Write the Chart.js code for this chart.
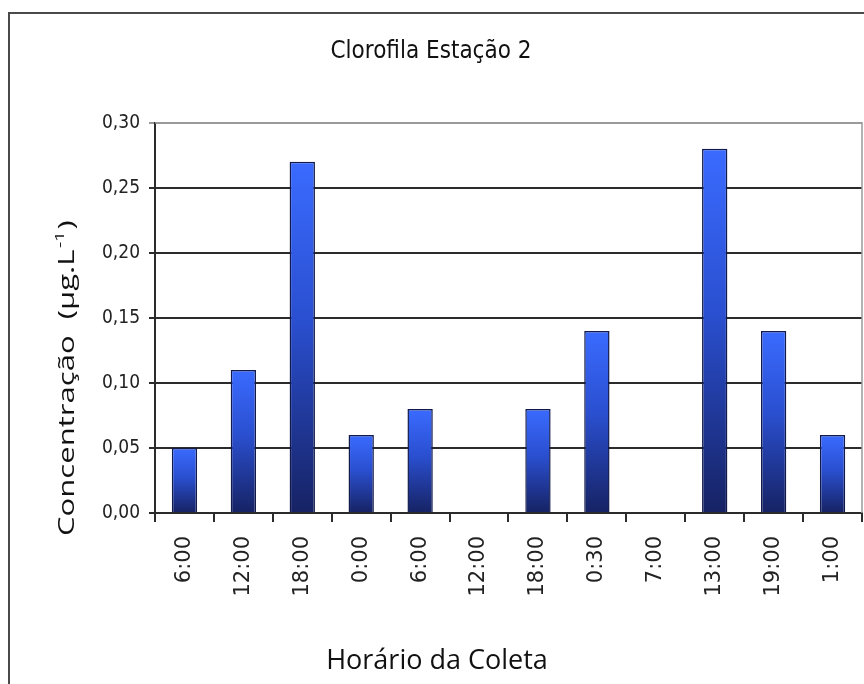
<!DOCTYPE html>
<html>
<head>
<meta charset="utf-8">
<script src="https://cdn.jsdelivr.net/npm/chart.js@4/dist/chart.umd.min.js"></script>
<style>
  html, body { margin: 0; padding: 0; background: #fff; overflow: hidden; }
  #frame { position: absolute; left: 8px; top: 12px; width: 900px; height: 700px;
           border-left: 2px solid #4a4a4a; border-top: 2px solid #4a4a4a; }
  #wrap { position: absolute; left: 0; top: 0; width: 864px; height: 684px; }
</style>
</head>
<body>
<div id="frame"></div>
<div id="wrap"><canvas id="chart" width="864" height="684"></canvas></div>
<script>
// sampling times and chlorophyll concentration (µg/L)
const horarios = ['6:00', '12:00', '18:00', '0:00', '6:00', '12:00', '18:00', '0:30', '7:00', '13:00', '19:00', '1:00'];
const clorofila = [0.05, 0.11, 0.27, 0.06, 0.08, 0, 0.08, 0.14, 0, 0.28, 0.14, 0.06];
const yTicks = [0, 0.05, 0.10, 0.15, 0.20, 0.25, 0.30];

const narrow = "'Liberation Sans Narrow', 'Arial Narrow', 'DejaVu Sans Condensed', sans-serif";
const lineColor = '#2b2b2b';

// vertical gradient per bar, light blue on top, navy at the base
function barGradient(ctx) {
  const chart = ctx.chart;
  if (!chart.chartArea || ctx.type !== 'data') return '#2f5cf0';
  const y = chart.scales.y;
  const top = y.getPixelForValue(ctx.raw);
  const bottom = y.getPixelForValue(0);
  if (bottom - top < 1) return '#2f5cf0';
  const g = chart.ctx.createLinearGradient(0, top, 0, bottom);
  g.addColorStop(0, '#3a6bff');
  g.addColorStop(0.45, '#2a4fd0');
  g.addColorStop(1, '#162263');
  return g;
}

// gray border on top and right of the plot area
const plotBorder = {
  id: 'plotBorder',
  afterDatasetsDraw(chart) {
    const { ctx, chartArea: a } = chart;
    ctx.save();
    ctx.strokeStyle = '#9a9a9a';
    ctx.lineWidth = 1.5;
    ctx.beginPath();
    ctx.moveTo(a.left, a.top);
    ctx.lineTo(a.right, a.top);
    ctx.lineTo(a.right, a.bottom);
    ctx.stroke();
    ctx.restore();
  }
};

// axis titles: tall humanist lettering, y title with superscript unit
const axisTitles = {
  id: 'axisTitles',
  afterDraw(chart) {
    const ctx = chart.ctx;
    ctx.save();
    ctx.fillStyle = '#111';
    ctx.textBaseline = 'middle';

    // x title
    ctx.textAlign = 'center';
    ctx.font = "27px 'Open Sans', sans-serif";
    ctx.fillText('Horário da Coleta', 437, 661);

    // y title, stretched along its length
    ctx.translate(68, 536);
    ctx.rotate(-Math.PI / 2);
    ctx.scale(1.48, 1);
    ctx.textAlign = 'left';
    ctx.font = "21px 'Open Sans', sans-serif";
    let x = 0;
    const main = 'Concentração  (µg.L';
    ctx.fillText(main, x, 0);
    x += ctx.measureText(main).width;
    ctx.font = "13px 'Open Sans', sans-serif";
    ctx.fillText('-1', x + 1, -8);
    x += ctx.measureText('-1').width + 2;
    ctx.font = "21px 'Open Sans', sans-serif";
    ctx.fillText(')', x, 0);
    ctx.restore();
  }
};

new Chart(document.getElementById('chart'), {
  type: 'bar',
  data: {
    labels: horarios,
    datasets: [{
      data: clorofila,
      backgroundColor: barGradient,
      borderColor: '#111a4a',
      borderWidth: 1.5,
      borderSkipped: 'bottom',
      categoryPercentage: 1,
      barPercentage: 0.43
    }]
  },
  options: {
    responsive: false,
    animation: false,
    layout: { padding: { left: 0, right: 2, top: 0, bottom: 0 } },
    plugins: {
      legend: { display: false },
      tooltip: { enabled: false },
      title: {
        display: true,
        text: 'Clorofila Estação 2',
        color: '#111',
        font: { family: narrow, size: 24, weight: 'normal', lineHeight: 1.2 },
        padding: { top: 37, bottom: 57 }
      }
    },
    scales: {
      x: {
        afterFit: s => { s.height = 171; s.paddingLeft = 0; s.paddingRight = 0; },
        grid: {
          offset: true,
          drawOnChartArea: false,
          drawTicks: true,
          tickLength: 9,
          color: lineColor,
          lineWidth: 2
        },
        border: { display: true, color: lineColor, width: 2 },
        ticks: {
          color: '#222',
          padding: 14,
          maxRotation: 90,
          minRotation: 90,
          autoSkip: false,
          font: { family: "'DejaVu Sans', sans-serif", size: 21 }
        }
      },
      y: {
        min: 0,
        max: 0.30,
        afterFit: s => { s.width = 155; },
        afterBuildTicks: s => { s.ticks = yTicks.map(v => ({ value: v })); },
        grid: {
          color: ctx => (ctx.tick && ctx.tick.value >= 0.3 ? '#9a9a9a' : lineColor),
          lineWidth: 2,
          tickLength: 6
        },
        border: { display: true, color: lineColor, width: 2 },
        ticks: {
          color: '#222',
          padding: 9,
          font: { family: narrow, size: 19 },
          callback: v => v.toFixed(2).replace('.', ',')
        }
      }
    }
  },
  plugins: [plotBorder, axisTitles]
});
</script>
</body>
</html>
